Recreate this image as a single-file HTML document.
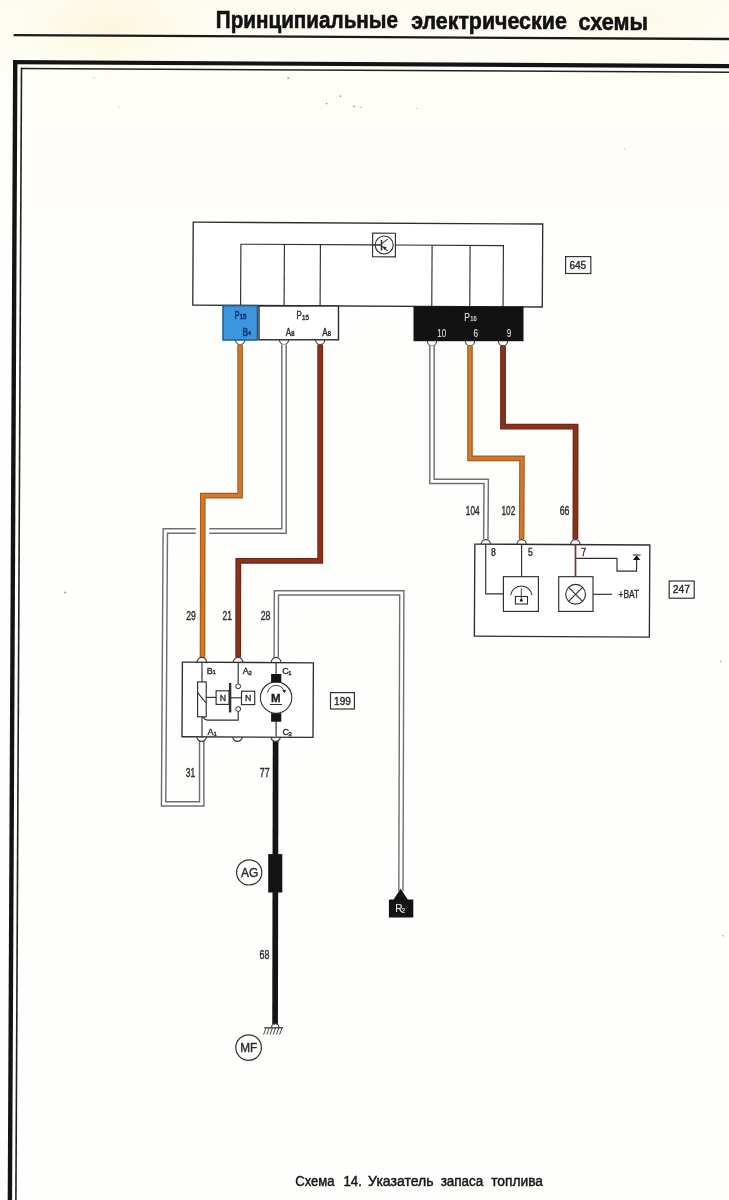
<!DOCTYPE html>
<html><head><meta charset="utf-8">
<style>
html,body{margin:0;padding:0;background:#fdfdfa;}
body{width:729px;height:1200px;overflow:hidden;position:relative;}
svg{position:absolute;left:0;top:0;display:block;will-change:transform;filter:blur(0.35px);}
text{font-family:"Liberation Sans",sans-serif;stroke:#2e2e2e;stroke-width:.4px;}
.hd text{stroke:#111;stroke-width:.6px;}
.wt text,text.wt{stroke:#ddd;stroke-width:.2px;}
.cap text{stroke:#151515;stroke-width:.45px;}
.bl text{stroke:#0b3372;stroke-width:.6px;}
</style></head>
<body>
<svg width="729" height="1200" viewBox="0 0 729 1200">
<defs>
<linearGradient id="bg" x1="0" y1="0" x2="0" y2="1">
<stop offset="0" stop-color="#fefcf1"/>
<stop offset="0.04" stop-color="#fefdf4"/>
<stop offset="0.08" stop-color="#fefdf8"/>
<stop offset="0.2" stop-color="#fefefc"/>
<stop offset="1" stop-color="#fefefd"/>
</linearGradient>
<radialGradient id="ytint" cx="0.5" cy="0.5" r="0.5">
<stop offset="0" stop-color="#fbf6d8" stop-opacity="0.8"/>
<stop offset="1" stop-color="#fbf6d8" stop-opacity="0"/>
</radialGradient>
</defs>
<rect x="0" y="0" width="729" height="1200" fill="url(#bg)"/>
<ellipse cx="110" cy="28" rx="100" ry="45" fill="url(#ytint)"/>
<ellipse cx="640" cy="20" rx="90" ry="30" fill="url(#ytint)" opacity="0.5"/>

<!-- HEADER -->
<g class="hd" fill="#111" font-weight="bold" font-size="24">
<text x="215.8" y="28.2" textLength="182.2" lengthAdjust="spacingAndGlyphs">Принципиальные</text>
<text x="411.2" y="28.9" textLength="155.6" lengthAdjust="spacingAndGlyphs">электрические</text>
<text x="578.6" y="29.6" textLength="69.4" lengthAdjust="spacingAndGlyphs">схемы</text>
</g>
<line x1="13.6" y1="35.1" x2="729" y2="39" stroke="#1a1a1a" stroke-width="2.3"/>

<!-- FRAME -->
<line x1="13.1" y1="62.2" x2="729" y2="66.1" stroke="#141414" stroke-width="4.2"/>
<line x1="15.25" y1="60.2" x2="9.9" y2="1200" stroke="#141414" stroke-width="4.4"/>
<line x1="20.8" y1="68.4" x2="729" y2="72.3" stroke="#222" stroke-width="1.5"/>
<line x1="21.5" y1="67.8" x2="15.9" y2="1200" stroke="#222" stroke-width="1.6"/>

<!-- CAPTION -->
<g class="cap" fill="#151515" font-size="14">
<text x="295.3" y="1186" textLength="39.3" lengthAdjust="spacingAndGlyphs">Схема</text>
<text x="343.5" y="1186" textLength="18.3" lengthAdjust="spacingAndGlyphs">14.</text>
<text x="368.1" y="1186" textLength="65.4" lengthAdjust="spacingAndGlyphs">Указатель</text>
<text x="440.7" y="1186" textLength="42.6" lengthAdjust="spacingAndGlyphs">запаса</text>
<text x="491.2" y="1186" textLength="51.8" lengthAdjust="spacingAndGlyphs">топлива</text>
</g>

<!-- specks -->
<g opacity="0.8">
<circle cx="288.2" cy="78.2" r="0.9" fill="#777"/>
<circle cx="340.4" cy="96.1" r="0.9" fill="#777"/>
<circle cx="326.6" cy="103.6" r="0.8" fill="#777"/>
<circle cx="354.1" cy="106.4" r="0.9" fill="#777"/>
<circle cx="360.9" cy="107.3" r="0.6" fill="#777"/>
<circle cx="65.2" cy="592.5" r="0.9" fill="#777"/>
<circle cx="720.8" cy="661.2" r="0.7" fill="#777"/>
<circle cx="723" cy="935.8" r="0.7" fill="#777"/>
<circle cx="624.7" cy="148.8" r="0.5" fill="#777"/>
<circle cx="416.8" cy="108.4" r="0.5" fill="#777"/>
<circle cx="118.8" cy="107" r="0.5" fill="#777"/>
<circle cx="94" cy="77.4" r="0.5" fill="#777"/>
</g>
<!-- DIAGRAM -->
<g id="diag">
<!-- ===== BOX 645 ===== -->
<g stroke="#2e2e2e" stroke-width="1.15" fill="none" transform="rotate(0.31 367.75 264.6)">
<rect x="193" y="223.1" width="349.5" height="83" fill="#fff" stroke-width="1.35"/>
<polyline points="240.8,306 240.8,244.9 372.5,244.9"/>
<polyline points="395.3,244.9 503.3,244.9 503.3,306"/>
<line x1="284.3" y1="244.9" x2="284.3" y2="306"/>
<line x1="320.3" y1="244.9" x2="320.3" y2="306"/>
<line x1="432" y1="244.9" x2="432" y2="306"/>
<line x1="470" y1="244.9" x2="470" y2="306"/>
<!-- transistor -->
<rect x="372.5" y="233.1" width="22.8" height="23.6" fill="#fff"/>
<circle cx="384.1" cy="244.9" r="9" stroke-width="1.1"/>
<line x1="372.5" y1="245" x2="381.4" y2="245" stroke-width="1.6"/>
<line x1="381.4" y1="240" x2="381.4" y2="250.5" stroke-width="1.5"/>
<line x1="382" y1="243.2" x2="387.5" y2="239" stroke-width="1"/>
<line x1="382" y1="246.3" x2="387.8" y2="250.8" stroke-width="1.1"/>
</g>
<path d="M382.6,246.6 L386.6,247.3 L384.6,250.1 Z" fill="#222"/>
<!-- "645" label -->
<rect x="565.6" y="256.6" width="25.2" height="16.9" fill="none" stroke="#333" stroke-width="1.2"/>
<text x="569.4" y="269.4" font-size="11" textLength="16.8" lengthAdjust="spacingAndGlyphs" fill="#222" stroke-width="0.2">645</text>

<!-- pins under connectors -->
<g fill="#fff" stroke="#3a3a3a" stroke-width="1.1">
<circle cx="240.1" cy="340" r="4.5"/>
<circle cx="284" cy="340" r="4.5"/>
<circle cx="320.2" cy="340" r="4.5"/>
<circle cx="432" cy="341.2" r="4.5"/>
<circle cx="470" cy="341.2" r="4.5"/>
<circle cx="503" cy="341.2" r="4.5"/>
</g>
<!-- connector boxes -->
<rect x="223" y="305.6" width="34.4" height="34.4" fill="#3c95dd" stroke="#1d5a94" stroke-width="1.5"/>
<rect x="259" y="306" width="79.5" height="33.8" fill="#fff" stroke="#2b2b2b" stroke-width="1.4"/>
<rect x="413.5" y="306.4" width="110" height="34.8" fill="#121212"/>
<g class="bl" font-size="11" fill="#0b3372">
<text x="234.8" y="319.2" textLength="4.8" lengthAdjust="spacingAndGlyphs">P</text><text x="239.8" y="319.2" font-size="6.5" textLength="6.6" lengthAdjust="spacingAndGlyphs">15</text>
<text x="242.5" y="335.6" textLength="5.6" lengthAdjust="spacingAndGlyphs">B</text><text x="248.3" y="335.2" font-size="6" textLength="2.6" lengthAdjust="spacingAndGlyphs">4</text>
</g>
<g font-size="11" fill="#333">
<text x="296.5" y="319.2" textLength="5.3" lengthAdjust="spacingAndGlyphs">P</text><text x="302" y="320" font-size="6.5" textLength="7" lengthAdjust="spacingAndGlyphs">15</text>
<text x="285.8" y="335.6" textLength="5.4" lengthAdjust="spacingAndGlyphs">A</text><text x="291.3" y="336" font-size="6.5" textLength="3.3" lengthAdjust="spacingAndGlyphs">8</text>
<text x="322.3" y="335.6" textLength="5.4" lengthAdjust="spacingAndGlyphs">A</text><text x="327.8" y="336" font-size="6.5" textLength="3.3" lengthAdjust="spacingAndGlyphs">8</text>
</g>
<g class="wt" font-size="11" fill="#d6d6d6">
<text x="464.3" y="320.6" textLength="5.6" lengthAdjust="spacingAndGlyphs">P</text><text x="470.2" y="321.3" font-size="6.5" textLength="6.4" lengthAdjust="spacingAndGlyphs">16</text>
<text x="437.2" y="337" textLength="9" lengthAdjust="spacingAndGlyphs">10</text>
<text x="473.4" y="337" textLength="4.6" lengthAdjust="spacingAndGlyphs">6</text>
<text x="506.8" y="337" textLength="4.6" lengthAdjust="spacingAndGlyphs">9</text>
</g>
<!-- ===== WIRES ===== -->
<g fill="none" stroke-linejoin="miter" stroke-linecap="butt">
<!-- white A8 -> 31 loop -->
<g id="w31">
<path d="M284,344.4 L284,531 L165.3,531 L163.6,803.9 L201.7,803.9 L201.7,741" stroke="#6f6f6f" stroke-width="5.8"/>
<path d="M284,344.4 L284,531 L165.3,531 L163.6,803.9 L201.7,803.9 L201.7,741" stroke="#fff" stroke-width="2.9"/>
</g>
<!-- gap around orange crossing -->
<rect x="195.8" y="526" width="13.5" height="10" fill="#fefefd" stroke="none"/>
<!-- orange 29 -->
<path d="M240.1,344.4 L240.1,495.6 L202.8,495.6 L202.5,657.5" stroke="#a65a1e" stroke-width="5.6"/>
<path d="M240.1,344.4 L240.1,495.6 L202.8,495.6 L202.5,657.5" stroke="#d27a2c" stroke-width="3.2"/>
<!-- red 21 -->
<path d="M320.2,344.4 L320.2,560.8 L238.3,560.8 L238.2,657.5" stroke="#6c2514" stroke-width="5.8"/>
<path d="M320.2,344.4 L320.2,560.8 L238.3,560.8 L238.2,657.5" stroke="#8a311b" stroke-width="3.6"/>
<!-- white 28 to R2 -->
<path d="M276.2,657.5 L276.4,592.9 L401.8,592.9 L400.9,891" stroke="#6f6f6f" stroke-width="5.6"/>
<path d="M276.2,657.5 L276.4,592.9 L401.8,592.9 L400.9,891" stroke="#fff" stroke-width="2.8"/>
<!-- black 77/68 -->
<path d="M275.6,741 L275.1,1024" stroke="#151515" stroke-width="5.7"/>
<!-- P16 wires -->
<path d="M432,345.6 L432,481.4 L486.2,481.4 L485.8,539.5" stroke="#6f6f6f" stroke-width="5.8"/>
<path d="M432,345.6 L432,481.4 L486.2,481.4 L485.8,539.5" stroke="#fff" stroke-width="2.9"/>
<path d="M470,345.6 L470,458.4 L522,458.4 L521.6,539.5" stroke="#a65a1e" stroke-width="5.6"/>
<path d="M470,345.6 L470,458.4 L522,458.4 L521.6,539.5" stroke="#d27a2c" stroke-width="3.2"/>
<path d="M503,345.6 L503,426.6 L575.6,426.6 L575.4,539.5" stroke="#6c2514" stroke-width="5.8"/>
<path d="M503,345.6 L503,426.6 L575.6,426.6 L575.4,539.5" stroke="#8a311b" stroke-width="3.6"/>
</g>
<!-- wire labels -->
<g font-size="12" fill="#2e2e2e">
<text x="186.2" y="619.8" textLength="9.6" lengthAdjust="spacingAndGlyphs">29</text>
<text x="222.5" y="619.8" textLength="9.4" lengthAdjust="spacingAndGlyphs">21</text>
<text x="260.7" y="619.8" textLength="9.8" lengthAdjust="spacingAndGlyphs">28</text>
<text x="185.7" y="777" textLength="9.4" lengthAdjust="spacingAndGlyphs">31</text>
<text x="259.8" y="777" textLength="9.8" lengthAdjust="spacingAndGlyphs">77</text>
<text x="259.6" y="959.3" textLength="9.9" lengthAdjust="spacingAndGlyphs">68</text>
<text x="465.8" y="515" textLength="13.8" lengthAdjust="spacingAndGlyphs">104</text>
<text x="501.5" y="515" textLength="13.7" lengthAdjust="spacingAndGlyphs">102</text>
<text x="559.7" y="515" textLength="9.8" lengthAdjust="spacingAndGlyphs">66</text>
</g>
<!-- ===== BOX 199 ===== -->
<g fill="#fff" stroke="#3a3a3a" stroke-width="1.1">
<circle cx="201.9" cy="662.2" r="4.8"/>
<circle cx="238.1" cy="662.2" r="4.8"/>
<circle cx="276.1" cy="662.2" r="4.8"/>
<circle cx="201.7" cy="736.6" r="4.8"/>
<circle cx="237.5" cy="736.6" r="4.8"/>
<circle cx="275.6" cy="736.6" r="4.8"/>
</g>
<g stroke="#2e2e2e" stroke-width="1.15" fill="none">
<rect x="182.2" y="662.5" width="131" height="74.6" fill="#fff" transform="rotate(0.3 247.7 699.8)" stroke-width="1.35"/>
<line x1="202" y1="662.2" x2="202" y2="681.9"/>
<rect x="197.6" y="681.9" width="8.6" height="34.9"/>
<line x1="197.6" y1="692.7" x2="205.8" y2="702.7" stroke-width="1.1"/>
<line x1="202" y1="716.8" x2="202" y2="736.6"/>
<path d="M203.2,717 Q204.5,720.1 208,720.1 L238.2,720.1 L238.2,711.4"/>
<line x1="238.2" y1="662.2" x2="238.2" y2="683.8"/>
<circle cx="238.2" cy="686.3" r="2.4" stroke-width="1"/>
<circle cx="238.2" cy="709" r="2.4" stroke-width="1"/>
<line x1="206.2" y1="697.4" x2="216.1" y2="697.4"/>
<rect x="216.1" y="690.8" width="13" height="13.6"/>
<line x1="229" y1="697.8" x2="241.5" y2="697.8"/>
<line x1="230.1" y1="683" x2="230.1" y2="712.4" stroke-width="2.4"/>
<rect x="241.5" y="691.2" width="13.2" height="13.4"/>
<line x1="276.1" y1="662.2" x2="276.1" y2="674.5"/>
<line x1="276.1" y1="721" x2="276.1" y2="736.6"/>
<circle cx="276.1" cy="697.6" r="15.7" stroke-width="1.1"/>
<path d="M267.6,692.6 A8.6,8.6 0 0 1 284.3,691.4" stroke-width="0.9"/>
</g>
<path d="M284.5,693.3 L282.2,690 L286.2,690 Z" fill="#2b2b2b"/>
<rect x="271.1" y="674" width="10.2" height="8.5" fill="#141414"/>
<rect x="271.1" y="713.2" width="10.2" height="8.5" fill="#141414"/>
<g font-size="9.5" fill="#333">
<text x="219.8" y="700.6" textLength="6.3" lengthAdjust="spacingAndGlyphs">N</text>
<text x="245" y="701" textLength="6.3" lengthAdjust="spacingAndGlyphs">N</text>
</g>
<text x="271.1" y="701.9" font-size="11.8" font-weight="bold" fill="#1a1a1a" textLength="9.6" lengthAdjust="spacingAndGlyphs">M</text>
<line x1="269.9" y1="704.5" x2="282" y2="704.5" stroke="#333" stroke-width="1"/>
<g font-size="9" fill="#333">
<text x="206.8" y="673.8">B</text><text x="212.5" y="674.2" font-size="6">1</text>
<text x="242.8" y="673.8">A</text><text x="248.4" y="674.6" font-size="6">2</text>
<text x="282.3" y="674.2">C</text><text x="288.3" y="675" font-size="6">1</text>
<text x="207.6" y="735.3">A</text><text x="213.4" y="735.6" font-size="6">1</text>
<text x="282.6" y="735.3">C</text><text x="288.6" y="736.1" font-size="6">2</text>
</g>
<rect x="330.5" y="692.6" width="23.9" height="16.4" fill="none" stroke="#333" stroke-width="1.2"/>
<text x="334.1" y="705.2" font-size="11" textLength="16.6" lengthAdjust="spacingAndGlyphs" fill="#222" stroke-width="0.2">199</text>

<!-- ===== BOX 247 ===== -->
<g fill="#fff" stroke="#3a3a3a" stroke-width="1.1">
<circle cx="485.8" cy="544.2" r="4.6"/>
<circle cx="521.6" cy="544.2" r="4.6"/>
<circle cx="575.4" cy="544.2" r="4.6"/>
</g>
<g stroke="#2e2e2e" stroke-width="1.15" fill="none">
<rect x="474.6" y="544.55" width="175" height="92.1" fill="#fff" transform="rotate(0.3 562.1 590.6)" stroke-width="1.35"/>
<polyline points="485.7,544.2 485.7,593.9 503.4,593.9"/>
<line x1="521.6" y1="544.2" x2="521.6" y2="576.7"/>
<rect x="503.4" y="576.7" width="35" height="34.7"/>
<path d="M510.6,595.3 A10.8,10.8 0 0 1 532,595.3" stroke-width="1.1"/>
<line x1="521.3" y1="588.4" x2="521.3" y2="600.4" stroke-width="0.9"/>
<rect x="515.4" y="596.5" width="12.1" height="7.5" stroke-width="1.1"/>
<polyline points="575.5,558.3 617,558.3 617,571.1 636.6,571.1 636.6,559.5"/>
<line x1="632.8" y1="555" x2="640.6" y2="555" stroke-width="1.1"/>
<rect x="558.7" y="576.7" width="34.3" height="34.7"/>
<circle cx="575.6" cy="594.3" r="9.9"/>
<line x1="568.6" y1="587.3" x2="582.6" y2="601.3" stroke-width="1.1"/>
<line x1="582.6" y1="587.3" x2="568.6" y2="601.3" stroke-width="1.1"/>
<line x1="593" y1="594.3" x2="612" y2="594.3"/>
</g>
<line x1="575.5" y1="544.2" x2="575.5" y2="576.7" stroke="#7a3322" stroke-width="1.7"/>
<path d="M636.6,555.3 L640.3,559.9 L632.9,559.9 Z" fill="#1a1a1a"/>
<circle cx="521.3" cy="600.4" r="1.4" fill="#1a1a1a"/>
<g font-size="10.5" fill="#2a2a2a">
<text x="491" y="556.2" textLength="4.8" lengthAdjust="spacingAndGlyphs">8</text>
<text x="528" y="556.2" textLength="4.8" lengthAdjust="spacingAndGlyphs">5</text>
<text x="581.2" y="556.2" textLength="4.8" lengthAdjust="spacingAndGlyphs">7</text>
<text x="618.6" y="598.3" textLength="20.4" lengthAdjust="spacingAndGlyphs">+BAT</text>
</g>
<rect x="669.2" y="581" width="25" height="17.2" fill="none" stroke="#333" stroke-width="1.2"/>
<text x="672.7" y="592.9" font-size="11" textLength="17.2" lengthAdjust="spacingAndGlyphs" fill="#222" stroke-width="0.2">247</text>

<!-- ===== AG / MF / R2 / ground ===== -->
<rect x="268.2" y="854.1" width="14.1" height="38.4" fill="#141414"/>
<circle cx="249.2" cy="872.4" r="12.6" fill="none" stroke="#333" stroke-width="1.2"/>
<text x="241" y="876.8" font-size="12" textLength="17.3" lengthAdjust="spacingAndGlyphs" fill="#2a2a2a" stroke-width="0.55">AG</text>
<circle cx="248.6" cy="1047.6" r="12.8" fill="none" stroke="#333" stroke-width="1.2"/>
<text x="240.2" y="1052" font-size="12" textLength="17" lengthAdjust="spacingAndGlyphs" fill="#2a2a2a" stroke-width="0.55">MF</text>
<path d="M275.3,1024 m-4,3.8 a4,4 0 0 1 8,0" fill="#fff" stroke="#333" stroke-width="1"/>
<line x1="264.2" y1="1027.8" x2="283.1" y2="1027.8" stroke="#333" stroke-width="1.2"/>
<g stroke="#333" stroke-width="0.9">
<line x1="266" y1="1028" x2="263.6" y2="1034.6"/>
<line x1="269.2" y1="1028" x2="266.8" y2="1034.6"/>
<line x1="272.4" y1="1028" x2="270" y2="1034.6"/>
<line x1="275.6" y1="1028" x2="273.2" y2="1034.6"/>
<line x1="278.8" y1="1028" x2="276.4" y2="1034.6"/>
<line x1="282" y1="1028" x2="279.6" y2="1034.6"/>
</g>
<path d="M400.6,888.8 L407.8,899.6 L413.3,899.6 L413.3,917.4 L388.9,917.4 L388.9,899.6 L393.6,899.6 Z" fill="#141414"/>
<text class="wt" x="395.3" y="912.4" font-size="10" fill="#e6e6e6">R</text><text class="wt" x="401.6" y="913.2" font-size="6.5" fill="#e6e6e6">2</text>
</g>
</svg>
</body></html>
